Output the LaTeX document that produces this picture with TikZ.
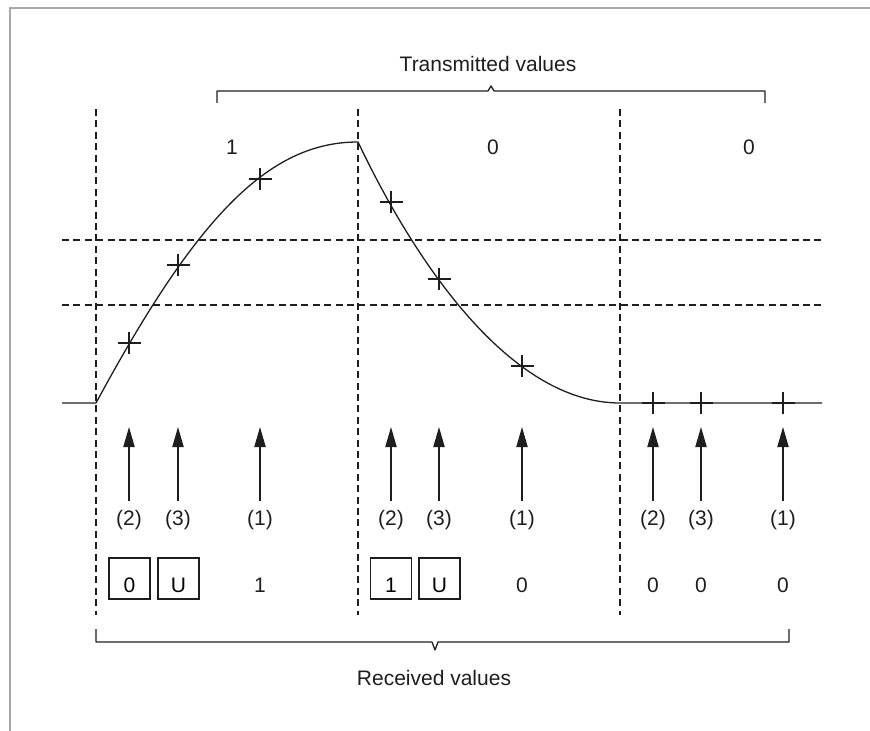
\documentclass[tikz,border=0pt]{standalone}
\usepackage{fontspec}
\setmainfont{Liberation Sans}
\usepackage{tikz}
\usetikzlibrary{arrows.meta}
\definecolor{framegray}{HTML}{A8A8A8}
\definecolor{inkx}{HTML}{1E1E1E}
\tikzset{
  sig/.style={line width=0.65pt,inkx},
  dline/.style={line width=0.55pt,inkx,dash pattern=on 3.5pt off 2.2pt},
  ar/.style={-{Triangle[length=10pt,width=5.6pt]},line width=0.7pt,inkx},
  box/.style={draw=inkx,line width=0.6pt,minimum size=20.5pt,inner sep=0pt,text height=14pt,text depth=0pt},
  val/.style={inner sep=0pt,text=inkx},
  lab/.style={inner sep=4.3pt,text=inkx},
  brk/.style={line width=0.65pt,inkx,line join=round}
}

\begin{document}
\begin{tikzpicture}[x=0.5pt,y=-0.5pt,font=\fontsize{10.5}{12}\selectfont]
\useasboundingbox (0,0) rectangle (870,731);
\draw[framegray,line width=1.1pt] (10,731) -- (10,8) -- (870,8);

% bit slots and decision levels
\foreach \x in {96,358,620} \draw[dline] (\x,109) -- (\x,615);
\foreach \y in {240,305} \draw[dline] (62,\y) -- (822,\y);

% line signal
\draw[sig] (62,403) -- (96,403) .. controls (196,218) and (268,142) .. (358,142)
  .. controls (415,262) and (510,403) .. (620,403) -- (822,403);

% sampling instants
\foreach \x/\y [count=\i] in {129/343,178/265,260/179,391/202,439/279,522/366,653/403,701/403,783/403}{
  \coordinate (s\i) at (\x,\y);
  \draw[line width=0.6pt,inkx] (\x-11.5,\y) -- (\x+11.5,\y) (\x,\y-11) -- (\x,\y+11);
}
\foreach \x/\n [count=\i] in {129/2,178/3,260/1,391/2,439/3,522/1,653/2,701/3,783/1}{
  \node[lab] (l\i) at (\x,520) {(\n)};
  \coordinate (t\i) at (\x,427);
  \draw[ar] (l\i.north) -- (t\i);
}

% transmitted values
\node[val] (tv) at (488,64) {Transmitted values};
\draw[brk] (217,103) -- (217,91) -- (488,91) -- (491,86) -- (494,91) -- (765,91) -- (765,103);
\node[val] (b1) at (232,147) {1};
\node[val] (b2) at (493,147) {0};
\node[val] (b3) at (749,147) {0};

% received values
\node[box] (r1) at (129.5,578.5) {0};
\node[box] (r2) at (178.5,578.5) {U};
\node[val] (r3) at (260,585) {1};
\node[box] (r4) at (391,578.5) {1};
\node[box] (r5) at (439.5,578.5) {U};
\node[val] (r6) at (522,585) {0};
\node[val] (r7) at (653,585) {0};
\node[val] (r8) at (701,585) {0};
\node[val] (r9) at (783,585) {0};
\draw[brk] (96,629) -- (96,642) -- (432,642) -- (435,650) -- (438,642) -- (789,642) -- (789,629);
\node[val] (rv) at (434,678) {Received values};
\end{tikzpicture}
\end{document}
